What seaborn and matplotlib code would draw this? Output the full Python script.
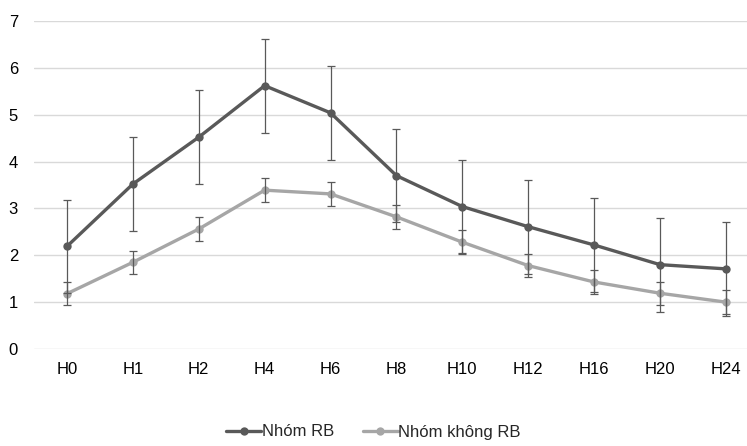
import matplotlib
matplotlib.use("Agg")
import matplotlib.pyplot as plt
import seaborn as sns
import pandas as pd

times = ["H0", "H1", "H2", "H4", "H6", "H8", "H10", "H12", "H16", "H20", "H24"]
rb = [2.19, 3.52, 4.52, 5.62, 5.04, 3.70, 3.04, 2.61, 2.22, 1.80, 1.71]
non_rb = [1.18, 1.85, 2.56, 3.39, 3.31, 2.82, 2.28, 1.78, 1.43, 1.19, 1.00]
rb_err = 1.0
non_rb_err = 0.25
groups = ["Nhóm RB", "Nhóm không RB"]
colors = ["#595959", "#A6A6A6"]

df = pd.DataFrame({
    "time": times * 2,
    "value": rb + non_rb,
    "group": [groups[0]] * len(times) + [groups[1]] * len(times),
})

sns.set_style("white")
plt.rcParams["font.family"] = ["Liberation Sans", "DejaVu Sans"]

fig = plt.figure(figsize=(7.47, 4.46), dpi=100)
ax = fig.add_axes([34 / 747, 97 / 446, 713 / 747, 328 / 446])

sns.lineplot(data=df, x="time", y="value", hue="group", palette=colors,
             marker="o", markersize=6, markeredgewidth=0, linewidth=2.4,
             ax=ax, legend=True, zorder=3)

ax.errorbar(times, rb, yerr=rb_err, fmt="none", ecolor="#595959",
            elinewidth=0.9, capsize=3, capthick=0.9, zorder=4)
ax.errorbar(times, non_rb, yerr=non_rb_err, fmt="none", ecolor="#595959",
            elinewidth=0.9, capsize=3, capthick=0.9, zorder=4)

ax.set_ylim(0, 7)
ax.set_xlim(-0.5, 10.32)
ax.set_yticks(range(0, 8))
ax.grid(axis="y", color="#D9D9D9", linewidth=1)
ax.set_axisbelow(True)
for s in ax.spines.values():
    s.set_visible(False)
ax.set_xlabel("")
ax.set_ylabel("")
ax.tick_params(axis="both", length=0, labelsize=12, colors="#000000")
ax.tick_params(axis="x", pad=9)
ax.tick_params(axis="y", pad=11.5)

handles, labels = ax.get_legend_handles_labels()
ax.get_legend().remove()
fig.legend(handles, labels, loc="center", bbox_to_anchor=(0.5, 1 - 432 / 446),
           ncol=2, frameon=False, fontsize=12, handlelength=2.1,
           handletextpad=0.05, columnspacing=1.7)

fig.savefig("out.png", dpi=100)
